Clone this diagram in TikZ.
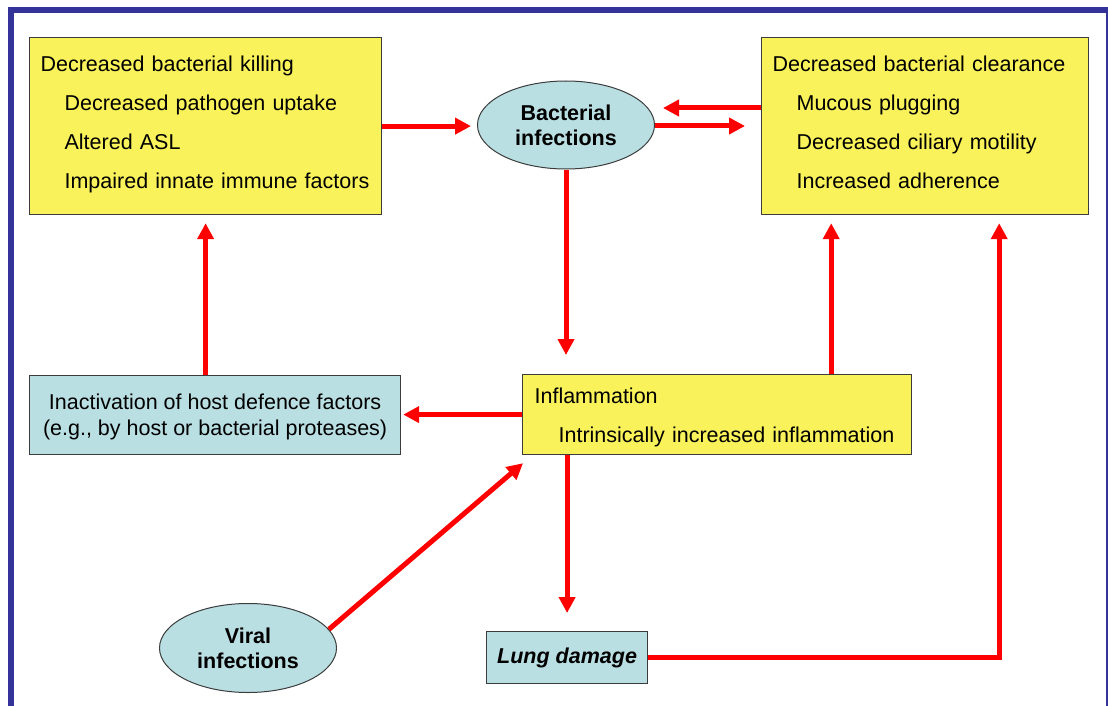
\documentclass[tikz,border=0pt]{standalone}
\usepackage{fontspec}
\setmainfont{Liberation Sans}
\usetikzlibrary{arrows.meta,shapes.geometric,calc}
\definecolor{frameblue}{RGB}{51,51,153}
\definecolor{boxyellow}{RGB}{250,242,90}
\definecolor{boxblue}{RGB}{185,223,227}
\definecolor{outline}{RGB}{60,60,60}
\definecolor{arrred}{RGB}{255,0,0}
\begin{document}
\begin{tikzpicture}[x=1pt,y=-1pt,
  ybox/.style={draw=outline, line width=1.2pt, fill=boxyellow, anchor=north west, align=left,
    inner xsep=11pt, inner ysep=0pt, font=\fontsize{21.5}{39}\selectfont},
  bbox/.style={draw=outline, line width=1.2pt, fill=boxblue, anchor=north west, align=center,
    inner sep=0pt},
  oval/.style={ellipse, draw=outline, line width=1pt, fill=boxblue, inner sep=0pt,
    minimum width=177pt, minimum height=88pt, align=center,
    font=\bfseries\fontsize{21.5}{25}\selectfont},
  arr/.style={draw=arrred, line width=5pt, -{Triangle[length=16pt,width=16pt]}},
]
\fill[white] (0,0) rectangle (1108,706);
\useasboundingbox (0,0) rectangle (1108,706);
% frame
\fill[frameblue] (8,7) rectangle (14,706);
\fill[frameblue] (8,7) rectangle (1107.5,13);
\fill[frameblue] (1105.5,7) rectangle (1107.5,706);

% nodes
\node[ybox, text width=330pt, minimum height=177pt] (kill) at (29,37)
  {Decreased bacterial killing\\
   \hspace*{24pt}Decreased pathogen uptake\\
   \hspace*{24pt}Altered ASL\\
   \hspace*{24pt}Impaired innate immune factors\rule[-8.5pt]{0pt}{8.5pt}};
\node[ybox, text width=305pt, minimum height=177pt] (clear) at (761,37)
  {Decreased bacterial clearance\\
   \hspace*{24pt}Mucous plugging\\
   \hspace*{24pt}Decreased ciliary motility\\
   \hspace*{24pt}Increased adherence\rule[-8pt]{0pt}{8pt}};
\node[oval] (bact) at (566,125) {Bacterial\\infections};
\node[ybox, inner xsep=12pt, text width=365pt, minimum height=80pt] (infl) at (522,374)
  {\rule{0pt}{22pt}Inflammation\\
   \hspace*{24pt}Intrinsically increased inflammation};
\node[bbox, minimum width=371pt, minimum height=79pt,
  font=\fontsize{21.5}{26}\selectfont] (inact) at (29,375)
  {\rule{0pt}{19.7pt}Inactivation of host defence factors\\(e.g., by host or bacterial proteases)};
\node[oval, minimum height=89pt] (viral) at (248,648) {Viral\\infections};
\node[bbox, minimum width=161pt, minimum height=52pt,
  font=\bfseries\itshape\fontsize{21.5}{26}\selectfont] (lung) at (486,631) {Lung damage};

% connectors
\draw[arr, shorten >=6pt] (kill.east) -- (kill.east -| bact.west);
\coordinate (bo) at ($(bact.east)+(0,1)$);
\draw[arr, shorten >=16pt] (bo) -- (bo -| clear.west);
\coordinate (cin) at ($(clear.north west)+(0,71)$);
\draw[arr, shorten >=8pt] (cin) -- (cin -| bact.east);
\draw[arr, shorten >=19pt] (bact.south) -- (bact.south |- infl.north);
\draw[arr, shorten >=18pt] (lung.north |- infl.south) -- (lung.north);
\draw[arr, shorten >=2pt] (infl.west) -- (infl.west -| inact.east);
\draw[arr, shorten >=8pt] (kill.south |- inact.north) -- (kill.south);
\coordinate (iu) at ($(infl.north east)+(-81,0)$);
\draw[arr, shorten >=8pt] (iu) -- (iu |- clear.south);
\coordinate (lc) at ($(clear.south east)+(-90,0)$);
\draw[arr, shorten >=8pt] (lung.east) -| (lc);
\draw[arr] (viral.13) -- ($(infl.south west)+(1,8)$);
\end{tikzpicture}
\end{document}
